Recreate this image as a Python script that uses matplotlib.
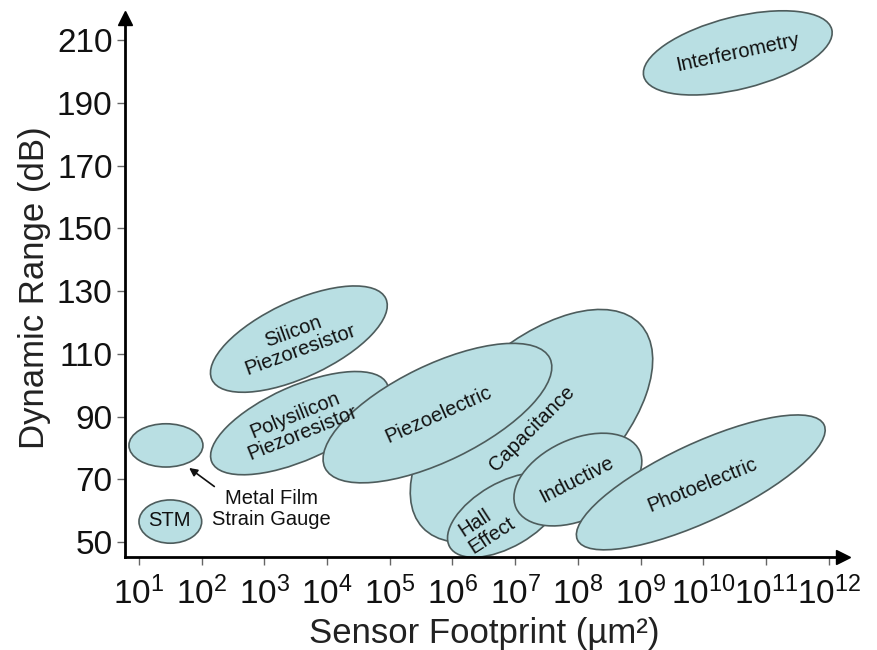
import numpy as np
import matplotlib
matplotlib.use("Agg")
import matplotlib.pyplot as plt
from matplotlib.patches import Ellipse
from matplotlib.transforms import Affine2D

plt.rcParams['font.family'] = ['Liberation Sans', 'DejaVu Sans']
plt.rcParams['mathtext.fontset'] = 'custom'
plt.rcParams['mathtext.rm'] = 'Liberation Sans'
plt.rcParams['mathtext.it'] = 'Liberation Sans'

# ---- data (x in log10 of footprint in um^2, y in dB) ----
names = ["Metal Film", "STM", "Silicon Piezoresistor", "Polysilicon Piezoresistor",
         "Capacitance", "Piezoelectric", "Hall Effect", "Inductive",
         "Photoelectric", "Interferometry"]
center_logx = [1.43, 1.50, 3.55, 3.56, 7.26, 5.76, 6.84, 8.00, 9.96, 10.55]
center_db = [80.8, 56.5, 114.7, 87.9, 87.0, 91.1, 58.6, 69.9, 69.0, 206.0]
# ellipse axes measured in decades (1 decade <-> 20 dB on this chart)
width_dec = [1.18, 1.00, 3.06, 3.06, 4.75, 3.99, 2.04, 2.17, 4.34, 3.09]
height_dec = [0.69, 0.69, 1.21, 1.18, 2.49, 1.53, 1.02, 1.28, 1.24, 1.15]
angle_deg = [0, 0, 25, 24, 43, 26, 30, 25, 25, 14]

label_text = ["", "STM", "Silicon\nPiezoresistor", "Polysilicon\nPiezoresistor",
              "Capacitance", "Piezoelectric", "Hall\nEffect", "Inductive",
              "Photoelectric", "Interferometry"]
label_logx = [0, 1.49, 3.52, 3.55, 7.27, 5.77, 6.55, 7.98, 9.98, 10.55]
label_db = [0, 56.7, 114.1, 87.6, 86.3, 90.5, 54.8, 69.8, 68.2, 206.0]
label_rot = [0, 0, 20, 22, 45, 24, 33, 27, 22, 12]

x_ticks = list(range(1, 13))
y_ticks = [50, 70, 90, 110, 130, 150, 170, 190, 210]
DB_PER_DECADE = 20.0

fig = plt.figure(figsize=(8.77, 6.5), dpi=100)
ax = fig.add_axes([125/877, 93/650, (843-125)/877, (557-18)/650])
ax.set_xlim(0.777, 0.777 + (843-125)/62.7)
ax.set_ylim(45.2, 45.2 + (557-18)/3.135)

fill = '#b9dfe3'
edge = '#4d5c5c'
tr = Affine2D().scale(1, DB_PER_DECADE) + ax.transData
for i in range(len(names)):
    e = Ellipse((center_logx[i], center_db[i] / DB_PER_DECADE), width_dec[i], height_dec[i],
                angle=angle_deg[i], facecolor=fill, edgecolor=edge, lw=1.2,
                transform=tr, zorder=2 + i, clip_on=False)
    ax.add_patch(e)
    if label_text[i]:
        ha_ml = 'left' if names[i] == "Hall Effect" else 'center'
        ax.text(label_logx[i], label_db[i], label_text[i], rotation=label_rot[i],
                ha='center', va='center', multialignment=ha_ml, fontsize=14.5,
                linespacing=1.05, color='#111111', zorder=20,
                rotation_mode='anchor')

# Metal film annotation
ax.annotate("Metal Film\nStrain Gauge", xy=(1.80, 73.6), xytext=(3.11, 60.5),
            ha='center', va='center', fontsize=14.5, color='#111111',
            linespacing=1.1,
            arrowprops=dict(arrowstyle='-|>', color='#111111', lw=1.2,
                            shrinkA=0, shrinkB=0, mutation_scale=12,
                            relpos=(0.12, 0.85)), zorder=20)

# axes styling
for s in ['top', 'right']:
    ax.spines[s].set_visible(False)
for s in ['left', 'bottom']:
    ax.spines[s].set_linewidth(2.0)
    ax.spines[s].set_zorder(25)
ax.plot(1, 0, '>k', transform=ax.transAxes, clip_on=False, markersize=10, zorder=30)
ax.plot(0, 1, '^k', transform=ax.transAxes, clip_on=False, markersize=10, zorder=30)

ax.set_xticks(x_ticks)
ax.set_xticklabels([r'$\mathregular{10^{%d}}$' % k for k in x_ticks])
ax.set_yticks(y_ticks)
ax.set_yticklabels([str(v) for v in y_ticks])
ax.tick_params(axis='both', direction='out', length=6, width=1.0, color='#666666',
               labelsize=24, labelcolor='#111111')
ax.tick_params(axis='x', pad=8)
ax.tick_params(axis='y', pad=3)

ax.set_xlabel("Sensor Footprint (µm²)", fontsize=25, color='#222222', labelpad=4)
ax.set_ylabel("Dynamic Range (dB)", fontsize=25, color='#222222', labelpad=4)

fig.savefig("out.png", dpi=100)
